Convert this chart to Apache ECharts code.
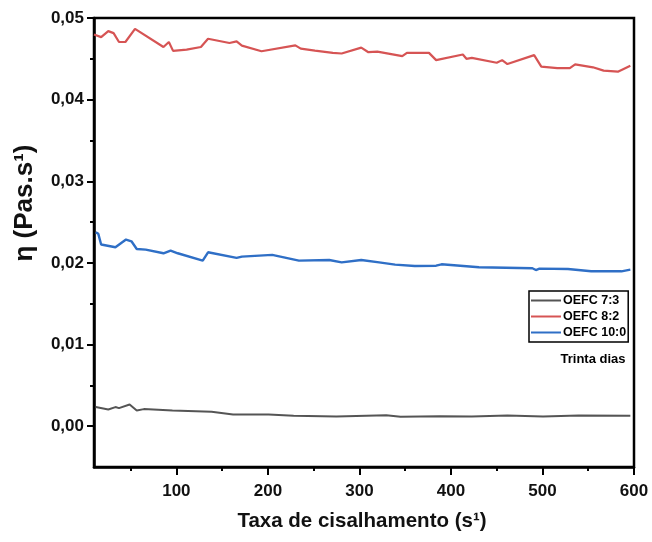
<!DOCTYPE html>
<html>
<head>
<meta charset="utf-8">
<script src="https://cdn.jsdelivr.net/npm/echarts@6/dist/echarts.min.js"></script>
<style>html,body{margin:0;padding:0;background:#fff}#c{width:652px;height:542px}</style>
</head>
<body>
<div id="c"></div>
<script>
const seriesNames = ['OEFC 7:3', 'OEFC 8:2', 'OEFC 10:0'];
const seriesColors = ['#555555', '#d65454', '#2f6fc6'];

const gray73X = [11.9, 25.6, 33.4, 37.3, 48.9, 56.7, 64.5, 95.7, 138.5, 161.9, 200.8, 228.1, 274.8, 329.3, 344.9, 387.7, 422.8, 461.7, 500.6, 539.5, 596];
const gray73Y = [0.00234, 0.00205, 0.00234, 0.00221, 0.00266, 0.00193, 0.00209, 0.00193, 0.00176, 0.00143, 0.00143, 0.00127, 0.00119, 0.00135, 0.00115, 0.00123, 0.00119, 0.00131, 0.00119, 0.00131, 0.00127];

const red82X = [10, 17.8, 25.6, 31.4, 37.3, 44.3, 54.8, 85.9, 91.8, 96.4, 111.2, 126.8, 134.6, 158, 165.8, 171.6, 193, 230, 235.9, 251.4, 270.9, 280.6, 302, 309.8, 319.6, 346.8, 351.9, 376, 383.8, 413, 416.9, 422.8, 450, 455.9, 461.7, 490.9, 498.7, 516.2, 529.9, 535.7, 555.2, 566.8, 582.4, 596];
const red82Y = [0.04798, 0.04766, 0.04839, 0.04815, 0.04706, 0.04706, 0.04867, 0.04645, 0.04706, 0.04597, 0.04613, 0.04645, 0.04746, 0.04694, 0.04714, 0.04661, 0.04593, 0.04665, 0.04625, 0.04601, 0.04573, 0.04565, 0.04637, 0.04581, 0.04589, 0.04532, 0.04573, 0.04573, 0.04484, 0.04553, 0.04500, 0.04512, 0.04452, 0.04484, 0.04436, 0.04545, 0.04404, 0.04387, 0.04387, 0.04432, 0.04396, 0.04355, 0.04343, 0.04416];

const blue100X = [11.9, 14.7, 17.8, 33.4, 45, 50.9, 56.7, 66.5, 85.9, 93.7, 101.5, 128.8, 134.6, 165.8, 171.6, 204.7, 233.9, 267, 280.6, 302, 321.5, 339, 360.5, 383.8, 389.7, 430.6, 489, 492.8, 496.7, 527.8, 553.2, 586.3, 596];
const blue100Y = [0.02376, 0.02356, 0.02225, 0.02192, 0.02286, 0.02265, 0.02171, 0.02163, 0.02118, 0.02151, 0.02118, 0.02028, 0.0213, 0.02061, 0.02077, 0.02098, 0.02028, 0.02036, 0.02007, 0.02036, 0.02007, 0.01979, 0.01962, 0.01966, 0.01983, 0.01946, 0.01934, 0.01913, 0.0193, 0.01925, 0.01897, 0.01897, 0.01917];

const xMajorTicks = [100, 200, 300, 400, 500, 600];
const xMinorTicks = [50, 150, 250, 350, 450, 550];
const yMajorTicks = [0, 0.01, 0.02, 0.03, 0.04, 0.05];
const yMinorTicks = [0.005, 0.015, 0.025, 0.035, 0.045];

function pairs(xs, ys) { return xs.map((x, i) => [x, ys[i]]); }
const FONT = 'Liberation Sans, Arial, sans-serif';

const chart = echarts.init(document.getElementById('c'), null, {renderer: 'canvas'});
const axisLine = {show: true, onZero: false, lineStyle: {color: '#000', width: 2.5}};
chart.setOption({
  animation: false,
  backgroundColor: '#fff',
  grid: {left: 94, right: 18, top: 18, bottom: 75, show: true, borderColor: '#000', borderWidth: 2.5, backgroundColor: 'transparent'},
  xAxis: [
    {type: 'value', min: 10, max: 600, position: 'bottom', axisLine: axisLine, splitLine: {show: false},
     axisTick: {show: true, customValues: xMajorTicks, length: 8, lineStyle: {color: '#000', width: 2}},
     axisLabel: {show: true, customValues: xMajorTicks, margin: 16, color: '#111', fontFamily: FONT, fontWeight: 'bold', fontSize: 17}},
    {type: 'value', min: 10, max: 600, position: 'bottom', axisLine: {show: false, onZero: false}, splitLine: {show: false},
     axisTick: {show: true, customValues: xMinorTicks, length: 4, lineStyle: {color: '#000', width: 2}},
     axisLabel: {show: false}}
  ],
  yAxis: [
    {type: 'value', min: -0.005, max: 0.05, position: 'left', axisLine: axisLine, splitLine: {show: false},
     axisTick: {show: true, customValues: yMajorTicks, length: 7, lineStyle: {color: '#000', width: 2}},
     axisLabel: {show: true, customValues: yMajorTicks, margin: 10, color: '#111', fontFamily: FONT, fontWeight: 'bold', fontSize: 17,
       formatter: v => v.toFixed(2).replace('.', ',')}},
    {type: 'value', min: -0.005, max: 0.05, position: 'left', axisLine: {show: false, onZero: false}, splitLine: {show: false},
     axisTick: {show: true, customValues: yMinorTicks, length: 4, lineStyle: {color: '#000', width: 2}},
     axisLabel: {show: false}}
  ],
  legend: {
    orient: 'vertical', left: 529, top: 291, padding: [3, 2, 3, 1],
    borderColor: '#000', borderWidth: 1.5, backgroundColor: '#fff',
    itemWidth: 30, itemHeight: 13, itemGap: 3,
    itemStyle: {opacity: 0},
    lineStyle: {width: 2},
    textStyle: {color: '#000', fontFamily: FONT, fontWeight: 'bold', fontSize: 12.5, padding: [0, 0, 0, -3]},
    data: seriesNames
  },
  series: [
    {name: seriesNames[0], type: 'line', data: pairs(gray73X, gray73Y), showSymbol: false, symbol: 'none', color: seriesColors[0], lineStyle: {width: 2, color: seriesColors[0]}},
    {name: seriesNames[1], type: 'line', data: pairs(red82X, red82Y), showSymbol: false, symbol: 'none', color: seriesColors[1], lineStyle: {width: 2.2, color: seriesColors[1]}},
    {name: seriesNames[2], type: 'line', data: pairs(blue100X, blue100Y), showSymbol: false, symbol: 'none', color: seriesColors[2], lineStyle: {width: 2.4, color: seriesColors[2]}}
  ],
  graphic: [
    {type: 'text', x: 593, y: 359, style: {text: 'Trinta dias', fill: '#000', font: 'bold 13px ' + FONT, align: 'center', verticalAlign: 'middle'}},
    {type: 'text', x: 362, y: 521, style: {text: 'Taxa de cisalhamento (s¹)', fill: '#111', font: 'bold 20.5px ' + FONT, align: 'center', verticalAlign: 'middle'}},
    {type: 'text', x: 25, y: 203, rotation: Math.PI / 2, style: {text: 'η (Pas.s¹)', fill: '#111', font: 'bold 26px ' + FONT, align: 'center', verticalAlign: 'middle'}}
  ]
});
</script>
</body>
</html>
